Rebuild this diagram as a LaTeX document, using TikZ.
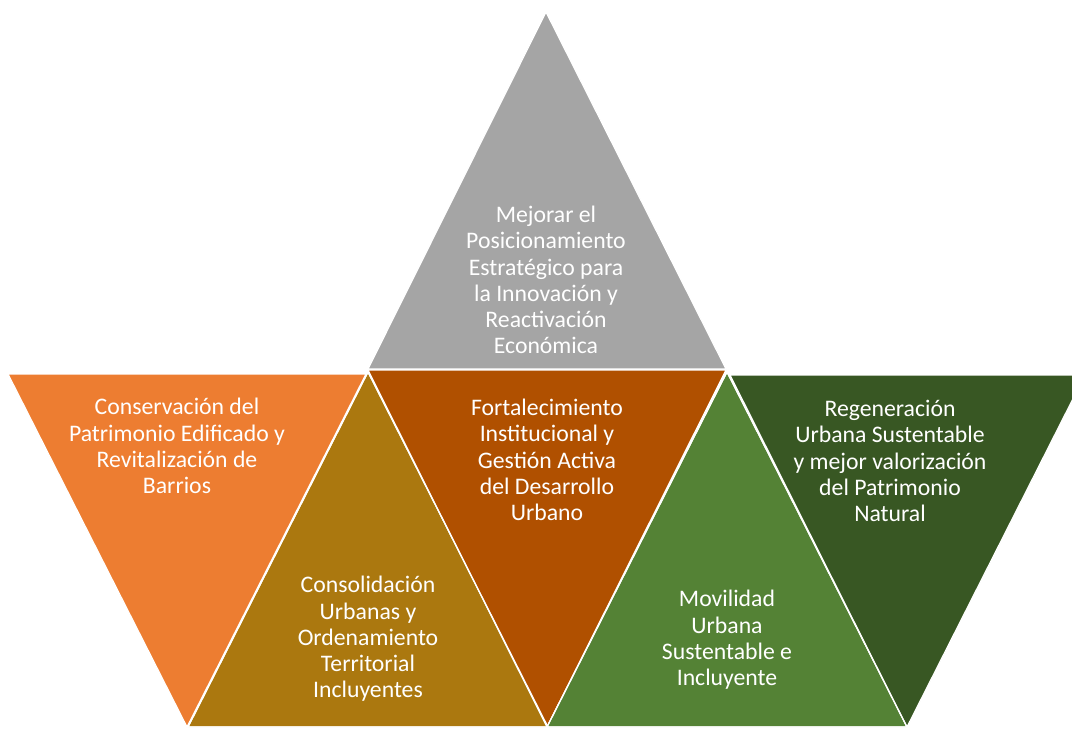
\documentclass[tikz,border=0pt]{standalone}
\usepackage{fontspec}
\setmainfont{Carlito}
\definecolor{triGray}{RGB}{165,165,165}
\definecolor{triOrange}{RGB}{237,125,49}
\definecolor{triGold}{RGB}{171,120,15}
\definecolor{triBrown}{RGB}{176,80,0}
\definecolor{triGreen}{RGB}{84,130,53}
\definecolor{triDark}{RGB}{56,87,35}
\begin{document}
\begin{tikzpicture}[x=0.75pt, y=-0.75pt,
  every node/.style={font=\fontsize{17.8}{19.7}\selectfont, text=white, align=center},
  tri/.style={draw=white, line width=0.9pt, line join=miter}]
  \useasboundingbox (0,0) rectangle (1072,729);
  \clip (0,0) rectangle (1072,729);
  % Triangles
  \fill[tri, fill=triGray] (546,12) -- (368,369) -- (726,369) -- cycle;
  \fill[tri, fill=triOrange] (8,374) -- (366,374) -- (187,727) -- cycle;
  \fill[tri, fill=triGold] (368,372) -- (188,727) -- (548,727) -- cycle;
  \fill[tri, fill=triBrown] (368,370) -- (726,370) -- (547,727) -- cycle;
  \fill[tri, fill=triGreen] (727,372) -- (547,727) -- (907,727) -- cycle;
  \fill[tri, fill=triDark] (730,375) -- (1085,375) -- (907,727) -- cycle;
  \draw[tri] (368,372) -- (188,727) -- (548,727) -- cycle;
  \draw[tri] (727,372) -- (547,727) -- (907,727) -- cycle;
  % Labels
  \node (posicion) at (546,280) {Mejorar el\\Posicionamiento\\Estratégico para\\la Innovación y\\Reactivación\\Económica};
  \node (patrimonio) at (177,446) {Conservación del\\Patrimonio Edificado y\\Revitalización de\\Barrios};
  \node (gestion) at (547,460) {Fortalecimiento\\Institucional y\\Gestión Activa\\del Desarrollo\\Urbano};
  \node (regenera) at (890,461) {Regeneración\\Urbana Sustentable\\y mejor valorización\\del Patrimonio\\Natural};
  \node (consolida) at (368,639) {Consolidación\\Urbanas y\\Ordenamiento\\Territorial\\Incluyentes};
  \node (movilidad) at (727,640) {Movilidad\\Urbana\\Sustentable e\\Incluyente};
\end{tikzpicture}
\end{document}
